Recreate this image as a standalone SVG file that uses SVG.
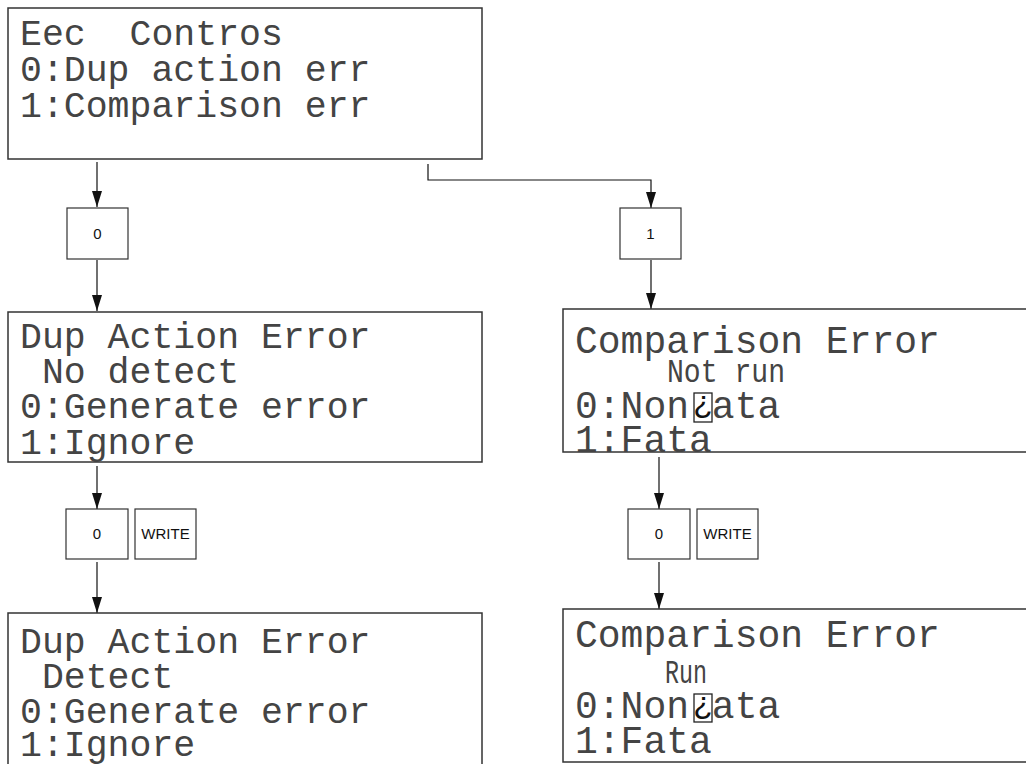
<svg xmlns="http://www.w3.org/2000/svg" width="1026" height="764" viewBox="0 0 1026 764">
<style>
.lcd{fill:#fff;stroke:#333;stroke-width:1.5}
.key{fill:#fff;stroke:#333;stroke-width:1.2}
.t{font-family:"Liberation Mono","DejaVu Sans Mono",monospace;font-size:36.5px;fill:#444;white-space:pre}
.tr{font-family:"Liberation Mono","DejaVu Sans Mono",monospace;font-size:38px;fill:#444;white-space:pre}
.ts{font-family:"Liberation Mono","DejaVu Sans Mono",monospace;font-size:34px;fill:#444}
.k{font-family:"Liberation Sans",Arial,sans-serif;font-size:15px;fill:#111;text-anchor:middle}
.inv{font-family:"Liberation Sans",Arial,sans-serif;font-size:32px;fill:#111;text-anchor:middle}
.c{fill:none;stroke:#111;stroke-width:1.2}
</style>
<defs>
<marker id="ah" markerUnits="userSpaceOnUse" viewBox="0 0 16 10" refX="16" refY="5" markerWidth="16" markerHeight="10" orient="auto">
<path d="M0,0 L16,5 L0,10 z" fill="#111"/>
</marker>
</defs>

<g id="connectors">
<path class="c" d="M97,162 V207" marker-end="url(#ah)"/>
<path class="c" d="M97,260 V311" marker-end="url(#ah)"/>
<path class="c" d="M428,164 V180 H651 V208" marker-end="url(#ah)"/>
<path class="c" d="M651,260 V309" marker-end="url(#ah)"/>
<path class="c" d="M97,466 V509" marker-end="url(#ah)"/>
<path class="c" d="M97,562 V613" marker-end="url(#ah)"/>
<path class="c" d="M659,457 V509" marker-end="url(#ah)"/>
<path class="c" d="M659,562 V609" marker-end="url(#ah)"/>
</g>

<g id="screen-top">
<rect class="lcd" x="8" y="8" width="474" height="151"/>
<text class="t" x="20" y="45" xml:space="preserve">Eec  Contros</text>
<text class="t" x="20" y="81">0:Dup action err</text>
<text class="t" x="20" y="117">1:Comparison err</text>
</g>

<g id="key-0-a">
<rect class="key" x="67" y="208" width="61" height="51"/>
<text class="k" x="97.5" y="239">0</text>
</g>

<g id="key-1">
<rect class="key" x="620" y="208" width="61" height="51"/>
<text class="k" x="650.5" y="239">1</text>
</g>

<g id="screen-dup-nodetect">
<rect class="lcd" x="8" y="312" width="474" height="150"/>
<text class="t" x="20" y="348">Dup Action Error</text>
<text class="t" x="20" y="383" xml:space="preserve"> No detect</text>
<text class="t" x="20" y="418">0:Generate error</text>
<text class="t" x="20" y="454">1:Ignore</text>
</g>

<g id="screen-cmp-notrun">
<rect class="lcd" x="563" y="309" width="470" height="143"/>
<text class="tr" x="575" y="353">Comparison Error</text>
<text class="ts" x="667" y="382" textLength="118" lengthAdjust="spacingAndGlyphs">Not run</text>
<text class="tr" x="575" y="418" xml:space="preserve">0:Non ata</text>
<rect x="694" y="393" width="18" height="29" fill="none" stroke="#222" stroke-width="1.3"/>
<text class="inv" x="703" y="413">¿</text>
<text class="tr" x="575" y="452">1:Fata</text>
</g>

<g id="key-0-b">
<rect class="key" x="66" y="509" width="62" height="50"/>
<text class="k" x="97" y="539">0</text>
</g>
<g id="key-write-b">
<rect class="key" x="135" y="509" width="61" height="50"/>
<text class="k" x="165.5" y="539">WRITE</text>
</g>

<g id="key-0-c">
<rect class="key" x="628" y="509" width="62" height="50"/>
<text class="k" x="659" y="539">0</text>
</g>
<g id="key-write-c">
<rect class="key" x="697" y="509" width="61" height="50"/>
<text class="k" x="727.5" y="539">WRITE</text>
</g>

<g id="screen-dup-detect">
<rect class="lcd" x="8" y="613" width="474" height="160"/>
<text class="t" x="20" y="653">Dup Action Error</text>
<text class="t" x="20" y="688" xml:space="preserve"> Detect</text>
<text class="t" x="20" y="723">0:Generate error</text>
<text class="t" x="20" y="756">1:Ignore</text>
</g>

<g id="screen-cmp-run">
<rect class="lcd" x="563" y="609" width="470" height="153"/>
<text class="tr" x="575" y="647">Comparison Error</text>
<text class="ts" x="665" y="683" textLength="42" lengthAdjust="spacingAndGlyphs">Run</text>
<text class="tr" x="575" y="718" xml:space="preserve">0:Non ata</text>
<rect x="694" y="694" width="18" height="28" fill="none" stroke="#222" stroke-width="1.3"/>
<text class="inv" x="703" y="714">¿</text>
<text class="tr" x="575" y="753">1:Fata</text>
</g>
</svg>
